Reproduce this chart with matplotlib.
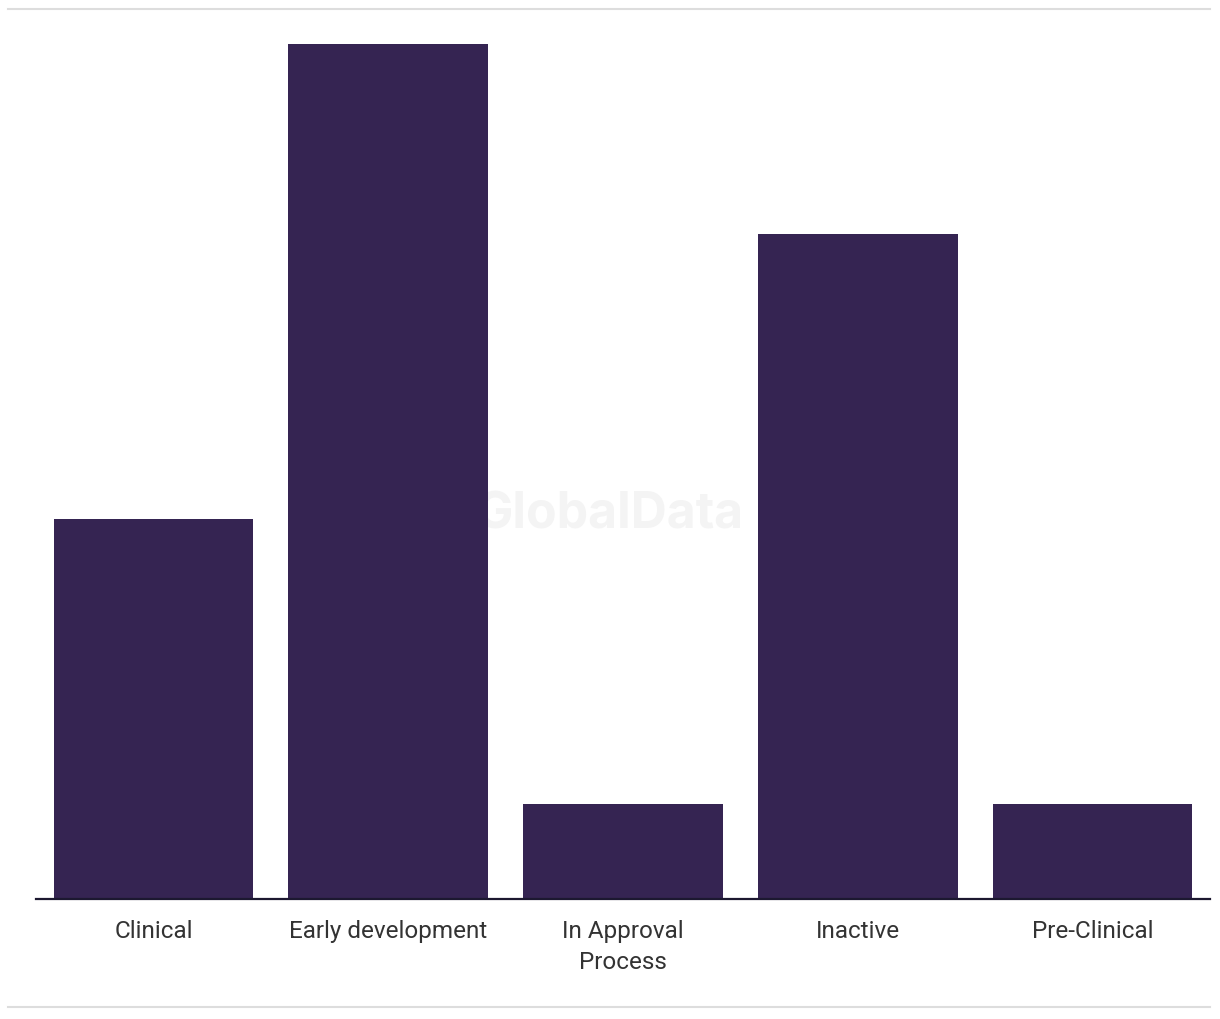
import matplotlib
matplotlib.use("Agg")
import matplotlib.pyplot as plt
from matplotlib.lines import Line2D

categories = ["Clinical", "Early development", "In Approval\nProcess", "Inactive", "Pre-Clinical"]
values = [4, 9, 1, 7, 1]

bar_color = "#352452"

plt.rcParams["font.family"] = ["Roboto", "DejaVu Sans"]

fig = plt.figure(figsize=(12.2, 10.2), dpi=100)
ax = fig.add_axes([36 / 1220, 120 / 1020, 1174 / 1220, 890 / 1020])

ax.bar(range(len(categories)), values, width=0.85, color=bar_color, zorder=2)
ax.set_xlim(-0.5, len(categories) - 0.5)
ax.set_ylim(0, 9 * 890 / 855)

ax.set_xticks(range(len(categories)))
ax.set_xticklabels(categories, fontsize=17.5, color="#333333", linespacing=1.45)
ax.tick_params(axis="x", length=0, pad=14.5)
ax.set_yticks([])
for s in ["top", "left", "right"]:
    ax.spines[s].set_visible(False)
ax.spines["bottom"].set_color("#1c1830")
ax.spines["bottom"].set_linewidth(1.6)

# watermark
ax.text(0.5, 0.495, "GlobalData", transform=fig.transFigure, ha="center", va="center",
        fontsize=36, fontweight="bold", color="#f4f4f4", zorder=1, family=["Inter", "DejaVu Sans"])

# top / bottom rules
fig.add_artist(Line2D([8 / 1220, 1210 / 1220], [1 - 10 / 1020] * 2, color="#dddddd", lw=1.5))
fig.add_artist(Line2D([8 / 1220, 1210 / 1220], [1 - 1008 / 1020] * 2, color="#dddddd", lw=1.5))

fig.savefig("out.png", dpi=100, facecolor="white")
